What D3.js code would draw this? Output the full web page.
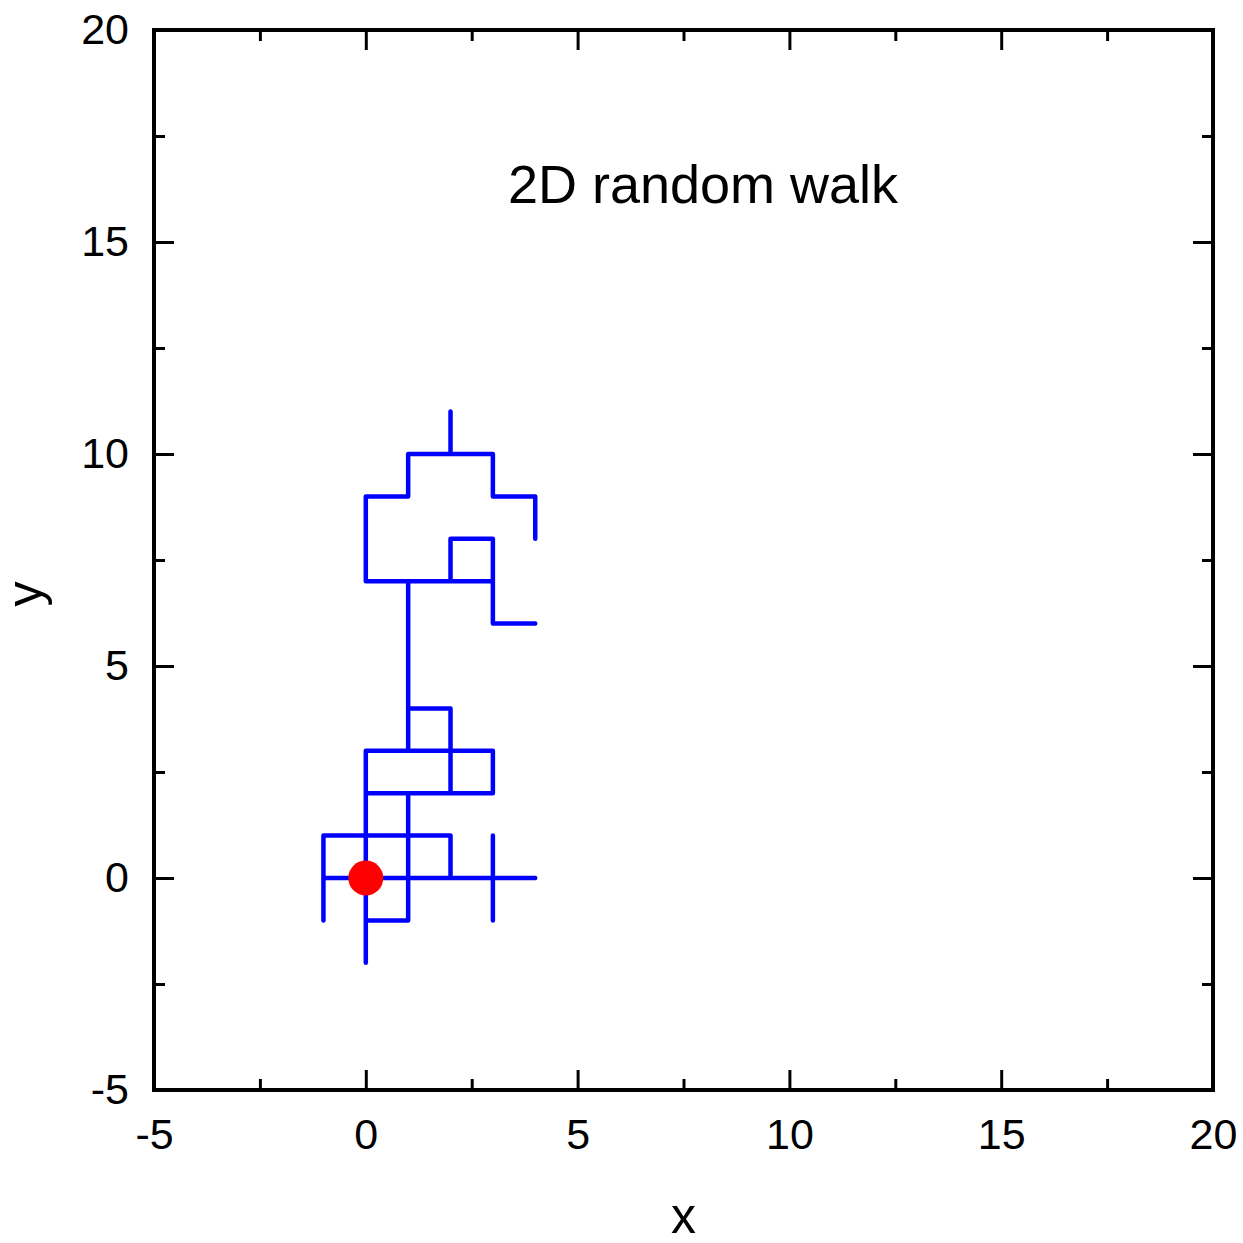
<!DOCTYPE html>
<html>
<head>
<meta charset="utf-8">
<script src="https://cdn.jsdelivr.net/npm/d3@7"></script>
<style>
  body { margin: 0; background: #fff; }
  svg { font-family: Arial, "Liberation Sans", sans-serif; }
  .axis text { font-size: 43px; fill: #000; }
  .axis line { stroke: #000; stroke-width: 3px; }
  .axis path { display: none; }
</style>
</head>
<body>
<div class="chart-area"></div>
<script>
// walk coordinates, step by step, starting at the origin
var walkX = [0, 0, 0, 0, 1, 1, 0, 1, 2, 3, 3, 3, 3, 3, 4, 3, 2, 2, 1, 0, -1, -1, -1, -1, 0, 0, 0, 1, 1, 1, 1, 1, 2, 3, 3, 2, 2, 2, 2, 1, 1, 2, 1, 0, 0, 0, 1, 1, 1, 1, 1, 0, 0, 0, 1, 1, 2, 2, 2, 3, 3, 4, 4, 4, 3, 3, 2, 1, 1, 0, 0, 0, 1, 2, 2, 3, 3, 2, 3, 3, 4],
    walkY = [0, -1, -2, -1, -1, 0, 0, 0, 0, 0, -1, 0, 1, 0, 0, 0, 0, 1, 1, 1, 1, 0, -1, 0, 0, 1, 2, 2, 1, 0, 1, 2, 2, 2, 3, 3, 2, 3, 4, 4, 3, 3, 3, 3, 2, 3, 3, 4, 5, 6, 7, 7, 8, 9, 9, 10, 10, 11, 10, 10, 9, 9, 8, 9, 9, 10, 10, 10, 9, 9, 8, 7, 7, 7, 8, 8, 7, 7, 7, 6, 6];

var startX = [0],
    startY = [0];

var majorTicks = [-5, 0, 5, 10, 15, 20],
    minorTicks = [-2.5, 2.5, 7.5, 12.5, 17.5];

var title = "2D random walk";

var chartWidth = 1243,
    chartHeight = 1243,
    plotLeft = 154,
    plotRight = 1213,
    plotTop = 30,
    plotBottom = 1090;

var svg = d3.select(".chart-area")
            .append("svg")
            .attr("width", chartWidth)
            .attr("height", chartHeight);

var x = d3.scaleLinear().domain([-5, 20]).range([plotLeft, plotRight]),
    y = d3.scaleLinear().domain([-5, 20]).range([plotBottom, plotTop]);

var plain = function(d) { return String(d) };

// major + minor ticks on all four sides, pointing inward
function addAxis(axis, tx, ty) {
  svg.append("g")
     .attr("class", "axis")
     .attr("transform", "translate(" + tx + "," + ty + ")")
     .call(axis);
}

addAxis(d3.axisBottom(x).tickValues(majorTicks).tickSize(-20).tickPadding(28.5).tickFormat(plain), 0, plotBottom);
addAxis(d3.axisBottom(x).tickValues(minorTicks).tickSize(-11).tickFormat(""), 0, plotBottom);
addAxis(d3.axisTop(x).tickValues(majorTicks).tickSize(-20).tickFormat(""), 0, plotTop);
addAxis(d3.axisTop(x).tickValues(minorTicks).tickSize(-11).tickFormat(""), 0, plotTop);
addAxis(d3.axisLeft(y).tickValues(majorTicks).tickSize(-20).tickPadding(25).tickFormat(plain), plotLeft, 0);
addAxis(d3.axisLeft(y).tickValues(minorTicks).tickSize(-11).tickFormat(""), plotLeft, 0);
addAxis(d3.axisRight(y).tickValues(majorTicks).tickSize(-20).tickFormat(""), plotRight, 0);
addAxis(d3.axisRight(y).tickValues(minorTicks).tickSize(-11).tickFormat(""), plotRight, 0);

svg.append("rect")
   .attr("x", plotLeft)
   .attr("y", plotTop)
   .attr("width", plotRight - plotLeft)
   .attr("height", plotBottom - plotTop)
   .attr("fill", "none")
   .attr("stroke", "#000")
   .attr("stroke-width", 4);

var line = d3.line()
             .x(function(d, i) { return x(walkX[i]) })
             .y(function(d, i) { return y(walkY[i]) });

svg.append("path")
   .datum(walkX)
   .attr("d", line)
   .attr("fill", "none")
   .attr("stroke", "#0000ff")
   .attr("stroke-width", 4.5)
   .attr("stroke-linejoin", "round")
   .attr("stroke-linecap", "round");

svg.selectAll(".start")
   .data(startX)
   .enter()
   .append("circle")
   .attr("class", "start")
   .attr("cx", function(d, i) { return x(d) })
   .attr("cy", function(d, i) { return y(startY[i]) })
   .attr("r", 17.5)
   .attr("fill", "#ff0000");

svg.append("text")
   .attr("x", 703)
   .attr("y", 203)
   .attr("text-anchor", "middle")
   .attr("font-size", 54)
   .text(title);

svg.append("text")
   .attr("x", (plotLeft + plotRight) / 2)
   .attr("y", 1233)
   .attr("text-anchor", "middle")
   .attr("font-size", 50)
   .text("x");

svg.append("text")
   .attr("transform", "translate(42,594) rotate(-90)")
   .attr("text-anchor", "middle")
   .attr("font-size", 50)
   .text("y");
</script>
</body>
</html>
